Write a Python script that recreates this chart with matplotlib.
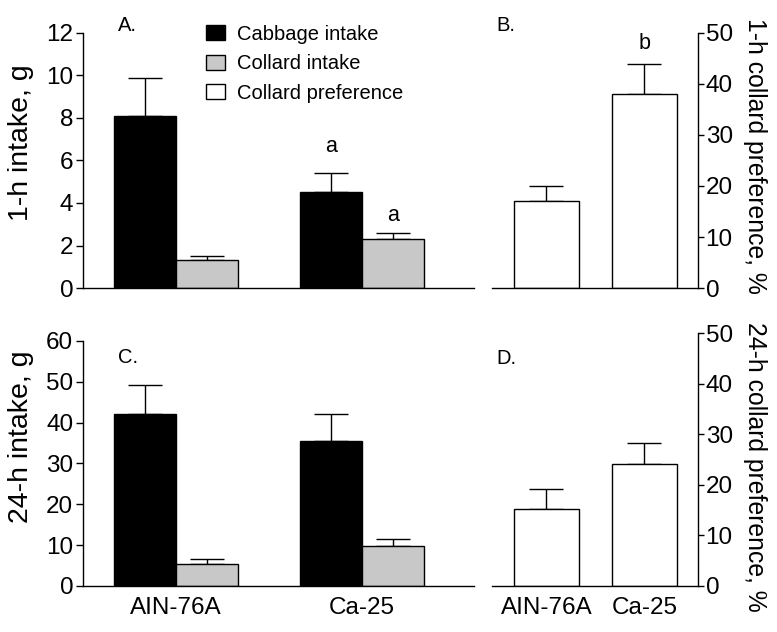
import matplotlib
matplotlib.use("Agg")
import matplotlib.pyplot as plt
from matplotlib.patches import Patch
import numpy as np

plt.rcParams['font.family'] = ['Liberation Sans', 'DejaVu Sans']

diets = ["AIN-76A", "Ca-25"]
# 1-h intake (g)
cabbage_1h = [8.1, 4.5]
cabbage_1h_se = [1.8, 0.9]
collard_1h = [1.3, 2.3]
collard_1h_se = [0.2, 0.3]
# 1-h collard preference (%)
pref_1h = [17, 38]
pref_1h_se = [3, 6]
# 24-h intake (g)
cabbage_24h = [42, 35.4]
cabbage_24h_se = [7.1, 6.8]
collard_24h = [5.5, 9.8]
collard_24h_se = [1.1, 1.8]
# 24-h collard preference (%)
pref_24h = [15.2, 24.2]
pref_24h_se = [4.0, 4.0]

sig_1h_cabbage = ["", "a"]
sig_1h_collard = ["", "a"]
sig_1h_pref = ["", "b"]

legend_labels = ["Cabbage intake", "Collard intake", "Collard preference"]

grey = "#c8c8c8"
TICK_FS = 17.5
LEFT_LAB_FS = 20.5
RIGHT_LAB_FS = 17.8
SMALL_FS = 14.5
SIG_FS = 15.5
PANEL_FS = 14.5

fig = plt.figure(figsize=(7.77, 6.32), dpi=100)

axA = fig.add_axes([0.1068, 0.5443, 0.503, 0.4035])
axB = fig.add_axes([0.6332, 0.5443, 0.2651, 0.4035])
axC = fig.add_axes([0.1068, 0.0728, 0.503, 0.3877])
axD = fig.add_axes([0.6332, 0.0728, 0.2651, 0.3998])

x = np.arange(len(diets))
w = 0.333
ekw = dict(ecolor='black', elinewidth=1.0, capsize=12, capthick=1.0)

def intake_panel(ax, cab, cab_se, col, col_se, ymax, step):
    ax.bar(x - w/2, cab, w, color='black', edgecolor='black', linewidth=1.0, zorder=2)
    ax.bar(x + w/2, col, w, color=grey, edgecolor='black', linewidth=1.0, zorder=2)
    ax.errorbar(x - w/2, cab, yerr=[np.zeros(len(cab)), cab_se], fmt='none', zorder=1, **ekw)
    ax.errorbar(x + w/2, col, yerr=[np.zeros(len(col)), col_se], fmt='none', zorder=1, **ekw)
    ax.set_xlim(-0.5, 1.6)
    ax.set_ylim(0, ymax)
    ax.set_yticks(np.arange(0, ymax + 0.01, step))
    for s in ['top', 'right']:
        ax.spines[s].set_visible(False)
    for s in ['left', 'bottom']:
        ax.spines[s].set_linewidth(1.0)
    ax.tick_params(axis='y', direction='out', length=5, width=1.0, labelsize=TICK_FS, pad=2)
    ax.tick_params(axis='x', length=0, labelsize=TICK_FS, pad=8)

def pref_panel(ax, val, se):
    pw = 0.66
    ax.bar(x, val, pw, color='white', edgecolor='black', linewidth=1.0, zorder=2)
    ax.errorbar(x, val, yerr=[np.zeros(len(val)), se], fmt='none', zorder=1, **ekw)
    ax.set_xlim(-0.556, 1.546)
    ax.set_ylim(0, 50)
    ax.set_yticks(np.arange(0, 51, 10))
    for s in ['top', 'left']:
        ax.spines[s].set_visible(False)
    for s in ['right', 'bottom']:
        ax.spines[s].set_linewidth(1.0)
    ax.yaxis.tick_right()
    ax.yaxis.set_label_position('right')
    ax.tick_params(axis='y', direction='out', length=4, width=1.0, labelsize=TICK_FS, pad=1.5)
    ax.tick_params(axis='x', length=0, labelsize=TICK_FS, pad=8)

intake_panel(axA, cabbage_1h, cabbage_1h_se, collard_1h, collard_1h_se, 12, 2)
intake_panel(axC, cabbage_24h, cabbage_24h_se, collard_24h, collard_24h_se, 60, 10)
pref_panel(axB, pref_1h, pref_1h_se)
pref_panel(axD, pref_24h, pref_24h_se)

axA.set_xticks([])
axB.set_xticks([])
axC.set_xticks(x)
axC.set_xticklabels(diets)
axD.set_xticks(x)
axD.set_xticklabels(diets)

axA.set_ylabel("1-h intake, g", fontsize=LEFT_LAB_FS, va='center')
axA.yaxis.set_label_coords(-0.159, 0.571)
axC.set_ylabel("24-h intake, g", fontsize=LEFT_LAB_FS, va='center')
axC.yaxis.set_label_coords(-0.159, 0.608)
axB.set_ylabel("1-h collard preference, %", fontsize=RIGHT_LAB_FS, rotation=270, va='center')
axB.yaxis.set_label_coords(1.277, 0.516)
axD.set_ylabel("24-h collard preference, %", fontsize=RIGHT_LAB_FS, rotation=270, va='center')
axD.yaxis.set_label_coords(1.277, 0.473)

# significance letters
for i in range(len(diets)):
    if sig_1h_cabbage[i]:
        axA.text(x[i] - w/2, cabbage_1h[i] + cabbage_1h_se[i] + 1.25, sig_1h_cabbage[i],
                 ha='center', va='center', fontsize=SIG_FS)
    if sig_1h_collard[i]:
        axA.text(x[i] + w/2, collard_1h[i] + collard_1h_se[i] + 0.8, sig_1h_collard[i],
                 ha='center', va='center', fontsize=SIG_FS)
    if sig_1h_pref[i]:
        axB.text(x[i], pref_1h[i] + pref_1h_se[i] + 4, sig_1h_pref[i],
                 ha='center', va='center', fontsize=SIG_FS)

# panel letters
axA.text(0.0895, 1.031, "A.", transform=axA.transAxes, ha='left', va='center', fontsize=PANEL_FS)
axB.text(0.023, 1.031, "B.", transform=axB.transAxes, ha='left', va='center', fontsize=PANEL_FS)
axC.text(0.0895, 0.932, "C.", transform=axC.transAxes, ha='left', va='center', fontsize=PANEL_FS)
axD.text(0.023, 0.901, "D.", transform=axD.transAxes, ha='left', va='center', fontsize=PANEL_FS)

handles = [Patch(facecolor='black', edgecolor='black', linewidth=1.0),
           Patch(facecolor=grey, edgecolor='black', linewidth=1.0),
           Patch(facecolor='white', edgecolor='black', linewidth=1.0)]
axA.legend(handles, legend_labels, loc='upper left', bbox_to_anchor=(0.3146, 1.0325),
           frameon=False, fontsize=SMALL_FS, handlelength=0.945, handleheight=0.75,
           handletextpad=0.6, labelspacing=0.52, borderpad=0, borderaxespad=0)

fig.savefig("out.png", dpi=100)
